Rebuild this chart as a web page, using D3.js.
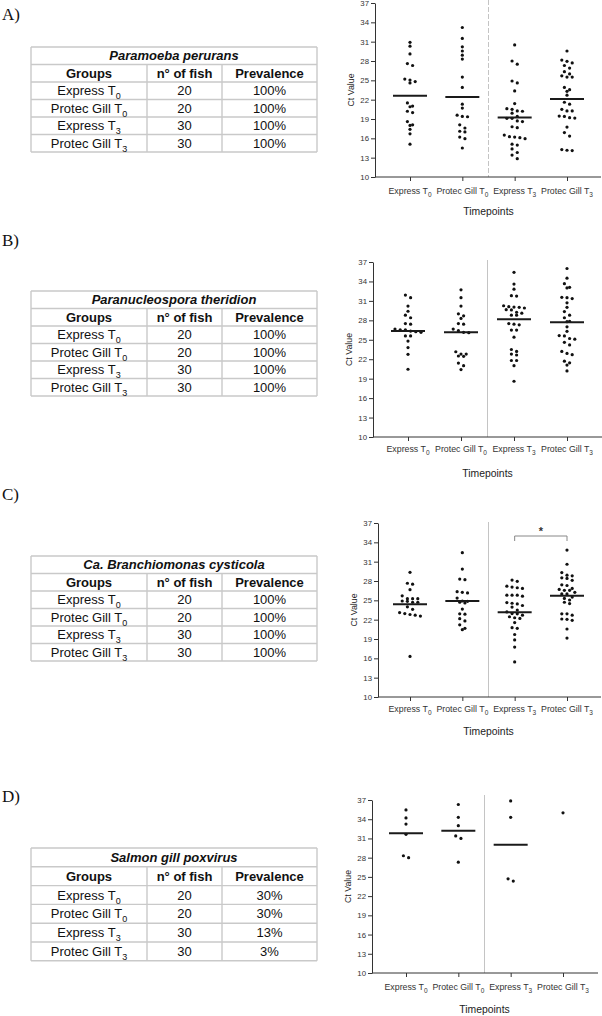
<!DOCTYPE html>
<html><head><meta charset="utf-8">
<script src="https://cdn.jsdelivr.net/npm/d3@7"></script>
<style>body{margin:0;background:#fff;} svg{display:block;}</style>
</head><body>
<svg id="c" width="602" height="1016"></svg>
<script>
// ---------- DATA ----------
const groupNames = ["Express", "Protec Gill", "Express", "Protec Gill"];
const groupSubs = ["0", "0", "3", "3"];
const yTicks = [10, 13, 16, 19, 22, 25, 28, 31, 34, 37];
const panelLetters = ["A)", "B)", "C)", "D)"];
const pathogens = ["Paramoeba perurans", "Paranucleospora theridion", "Ca. Branchiomonas cysticola", "Salmon gill poxvirus"];
const tableHeaders = ["Groups", "n° of fish", "Prevalence"];
const nFish = ["20", "20", "30", "30"];
const prevalenceA = ["100%", "100%", "100%", "100%"];
const prevalenceB = ["100%", "100%", "100%", "100%"];
const prevalenceC = ["100%", "100%", "100%", "100%"];
const prevalenceD = ["30%", "30%", "13%", "3%"];
const xTitle = "Timepoints";
const yTitle = "Ct Value";

// Ct values per group (Express T0, Protec Gill T0, Express T3, Protec Gill T3)
const ctA = [
  [30.9,30.3,29.1,27.6,27.3,25.2,25.05,24.8,24.6,21.5,20.9,21.0,20.2,20.0,18.6,18.1,18.0,17.4,16.7,15.1],
  [33.2,31.5,30.2,29.55,28.9,28.3,25.5,23.9,21.3,20.7,19.6,19.4,19.35,18.1,17.6,17.1,17.0,16.2,15.95,14.5],
  [30.5,28.0,27.5,24.9,24.6,23.35,21.4,20.5,20.6,20.2,20.25,19.9,19.4,19.1,19.1,18.6,18.7,17.8,17.65,16.5,16.25,16.2,15.95,16.1,15.1,14.95,14.35,13.8,13.4,12.85],
  [29.55,28.15,27.95,27.7,27.3,26.9,26.35,26.0,25.7,25.5,25.5,23.9,23.55,23.3,22.7,21.6,21.3,20.5,20.25,20.25,19.45,19.4,19.2,19.15,17.75,16.9,16.35,14.1,14.25,14.15]
];
const meanA = [22.6, 22.4, 19.25, 22.1];

const ctB = [
  [31.9,31.5,30.2,29.4,28.8,28.4,27.5,27.4,26.65,26.55,26.55,26.35,26.25,26.15,25.6,25.6,24.8,23.8,22.75,20.45],
  [32.7,31.5,30.2,29.0,28.7,28.3,27.4,27.5,26.65,26.4,26.15,26.1,23.15,22.8,22.5,22.45,22.8,21.4,21.0,20.4],
  [35.4,33.6,32.8,31.75,31.8,30.05,30.25,30.1,30.0,29.9,29.6,29.65,29.1,29.25,28.8,28.8,27.5,27.4,27.3,26.5,26.5,25.4,23.5,23.2,22.8,22.65,21.8,21.8,21.0,18.6],
  [36.0,34.5,33.65,33.0,33.1,31.5,31.55,31.35,30.7,30.0,29.35,28.8,28.4,27.8,27.85,27.0,26.3,25.6,25.65,25.2,25.1,24.6,24.2,23.2,22.7,22.9,21.7,21.45,21.1,20.2]
];
const meanB = [26.35, 26.15, 28.15, 27.7];

const ctC = [
  [29.35,27.65,27.5,26.65,25.7,25.25,25.25,25.25,24.9,24.85,24.7,24.7,24.0,23.6,22.95,22.7,22.8,23.1,22.55,16.3],
  [32.4,29.85,28.2,28.3,26.35,26.15,26.25,25.35,24.85,24.7,24.6,24.9,23.65,22.9,22.85,22.15,21.8,21.2,20.65,20.45],
  [28.15,27.95,27.2,26.85,26.95,27.05,25.8,25.8,25.65,25.8,24.55,24.45,24.65,24.2,23.95,23.5,23.2,22.95,22.9,22.7,22.45,22.3,22.2,21.55,20.65,20.75,19.7,18.85,17.75,15.45],
  [32.8,30.6,29.3,28.9,28.8,28.5,28.4,28.1,27.4,27.3,26.55,26.55,26.7,26.85,26.25,26.0,26.0,25.5,25.3,25.05,24.7,24.5,22.9,22.9,22.7,22.1,22.05,21.9,20.55,19.15]
];
const meanC = [24.4, 24.9, 23.15, 25.7];

const ctD = [
  [35.45,34.2,33.25,31.65,28.0,28.3],
  [36.3,34.3,33.0,31.4,31.0,27.3],
  [36.85,34.3,24.35,24.7],
  [35.0]
];
const meanD = [31.8, 32.2, 30.0, null];

const significance = [null, null, [2, 3, "*"], null];

// ---------- LAYOUT (positions only) ----------
const layout = [
  {letterY: 20,  tableTop: 47,  rowH: 17.5, yTop: 3,   yBot: 177, axisX: 375, xr: [410, 567], right: 601, sepTop: 0,   tickLabY: 194, titleY: 215, dashed: true},
  {letterY: 246, tableTop: 291, rowH: 17.5, yTop: 262, yBot: 437, axisX: 373, xr: [408, 567], right: 602, sepTop: 260, tickLabY: 452, titleY: 477, dashed: false},
  {letterY: 500, tableTop: 556, rowH: 17.5, yTop: 523, yBot: 697, axisX: 378, xr: [410, 567], right: 601, sepTop: 522, tickLabY: 712, titleY: 735, dashed: false},
  {letterY: 802, tableTop: 848, rowH: 18.8, yTop: 800, yBot: 973, axisX: 372, xr: [406, 563], right: 598, sepTop: 795, tickLabY: 990, titleY: 1013, dashed: false}
];
const tableCols = [31, 147, 222, 317];

const ctAll = [ctA, ctB, ctC, ctD];
const meanAll = [meanA, meanB, meanC, meanD];
const prevAll = [prevalenceA, prevalenceB, prevalenceC, prevalenceD];

const svg = d3.select("#c");
const sansFont = "'Liberation Sans', Arial, Helvetica, sans-serif";

function addLabel(sel, name, sub, subSize) {
  sel.append("tspan").text(name + " T");
  sel.append("tspan").attr("font-size", subSize).attr("dy", subSize * 0.45).text(sub);
}

layout.forEach((L, p) => {
  const g = svg.append("g");

  // panel letter
  g.append("text").attr("x", 2).attr("y", L.letterY)
    .attr("font-family", "'Liberation Serif', 'Times New Roman', serif")
    .attr("font-size", 17).attr("fill", "#111").text(panelLetters[p]);

  // ---------- table ----------
  const tg = g.append("g").attr("font-family", sansFont).attr("fill", "#111");
  const t0 = L.tableTop, rh = L.rowH;
  const nRows = 6;
  const border = "#c9c9c9";
  for (let r = 0; r <= nRows; r++) {
    tg.append("line").attr("x1", tableCols[0]).attr("x2", tableCols[3])
      .attr("y1", t0 + r * rh).attr("y2", t0 + r * rh)
      .attr("stroke", border).attr("stroke-width", 1.4);
  }
  tableCols.forEach((cx, i) => {
    const yStart = (i === 0 || i === 3) ? t0 : t0 + rh;
    tg.append("line").attr("x1", cx).attr("x2", cx)
      .attr("y1", yStart).attr("y2", t0 + nRows * rh)
      .attr("stroke", border).attr("stroke-width", 1.4);
  });
  const colMid = i => (tableCols[i] + tableCols[i + 1]) / 2;
  const rowBase = r => t0 + r * rh + rh / 2 + 4.6;
  tg.append("text").attr("x", (tableCols[0] + tableCols[3]) / 2).attr("y", rowBase(0))
    .attr("text-anchor", "middle").attr("font-size", 13).attr("font-weight", "bold")
    .attr("font-style", "italic").text(pathogens[p]);
  tableHeaders.forEach((h, i) => {
    tg.append("text").attr("x", colMid(i)).attr("y", rowBase(1))
      .attr("text-anchor", "middle").attr("font-size", 13).attr("font-weight", "bold").text(h);
  });
  groupNames.forEach((gn, i) => {
    const t = tg.append("text").attr("x", colMid(0)).attr("y", rowBase(2 + i))
      .attr("text-anchor", "middle").attr("font-size", 13);
    addLabel(t, gn, groupSubs[i], 9);
    tg.append("text").attr("x", colMid(1)).attr("y", rowBase(2 + i))
      .attr("text-anchor", "middle").attr("font-size", 13).text(nFish[i]);
    tg.append("text").attr("x", colMid(2)).attr("y", rowBase(2 + i))
      .attr("text-anchor", "middle").attr("font-size", 13).text(prevAll[p][i]);
  });

  // ---------- chart ----------
  const y = d3.scaleLinear().domain([10, 37]).range([L.yBot, L.yTop]);
  const x = d3.scalePoint().domain(d3.range(4)).range(L.xr);
  const axisColor = "#333";

  const sepX = (x(1) + x(2)) / 2;
  g.append("line").attr("x1", sepX).attr("x2", sepX).attr("y1", L.sepTop).attr("y2", L.yBot)
    .attr("stroke", "#c4c4c4").attr("stroke-width", 1)
    .attr("stroke-dasharray", L.dashed ? "5,2" : null);

  const ya = g.append("g").attr("transform", `translate(${L.axisX},0)`)
    .call(d3.axisLeft(y).tickValues(yTicks).tickSize(4).tickSizeOuter(0).tickFormat(d3.format("d")));
  ya.select(".domain").attr("stroke", axisColor);
  ya.selectAll(".tick line").attr("stroke", axisColor);
  ya.selectAll(".tick text").attr("font-family", sansFont).attr("font-size", 7.8).attr("fill", "#333").attr("x", -6);

  g.append("line").attr("x1", L.axisX).attr("x2", L.right).attr("y1", L.yBot).attr("y2", L.yBot)
    .attr("stroke", axisColor).attr("stroke-width", 1);
  const xa = g.append("g").attr("transform", `translate(0,${L.yBot})`)
    .call(d3.axisBottom(x).tickSize(4).tickFormat(""));
  xa.select(".domain").remove();
  xa.selectAll(".tick line").attr("stroke", axisColor);
  d3.range(4).forEach(i => {
    const t = g.append("text").attr("x", x(i)).attr("y", L.tickLabY)
      .attr("text-anchor", "middle").attr("font-family", sansFont).attr("font-size", 8.8).attr("fill", "#333");
    addLabel(t, groupNames[i], groupSubs[i], 6.5);
  });

  g.append("text").attr("x", sepX).attr("y", L.titleY).attr("text-anchor", "middle")
    .attr("font-family", sansFont).attr("font-size", 10.4).attr("fill", "#222").text(xTitle);
  g.append("text").attr("transform", `translate(${L.axisX - 21},${(L.yTop + L.yBot) / 2}) rotate(-90)`)
    .attr("text-anchor", "middle").attr("font-family", sansFont).attr("font-size", 8.8).attr("fill", "#222").text(yTitle);

  // dots with Prism-style row layout
  const step = 5.2, rowTol = 3.6;
  ctAll[p].forEach((vals, gi) => {
    const pts = vals.map(v => ({v, py: y(v)})).sort((a, b) => a.py - b.py);
    const rows = [];
    pts.forEach(pt => {
      const last = rows[rows.length - 1];
      if (last && pt.py - last[0].py <= rowTol) last.push(pt); else rows.push([pt]);
    });
    rows.forEach(row => {
      row.forEach((pt, k) => { pt.px = x(gi) + (k - (row.length - 1) / 2) * step; });
    });
    g.append("g").selectAll("circle").data(pts).join("circle")
      .attr("cx", d => d.px).attr("cy", d => d.py).attr("r", 1.6).attr("fill", "#111");
    const m = meanAll[p][gi];
    if (m != null) {
      g.append("line").attr("x1", x(gi) - 17).attr("x2", x(gi) + 17)
        .attr("y1", y(m)).attr("y2", y(m)).attr("stroke", "#1a1a1a").attr("stroke-width", 2);
    }
  });

  const s = significance[p];
  if (s) {
    const by = L.yTop + 13;
    const bx1 = x(s[0]), bx2 = x(s[1]);
    g.append("path").attr("d", `M${bx1},${by + 5}V${by}H${bx2}V${by + 5}`)
      .attr("fill", "none").attr("stroke", "#888").attr("stroke-width", 1);
    g.append("text").attr("x", (bx1 + bx2) / 2).attr("y", by - 1).attr("text-anchor", "middle")
      .attr("font-family", sansFont).attr("font-size", 11).attr("font-weight", "bold").attr("fill", "#333").text(s[2]);
  }
});
</script>
</body></html>
